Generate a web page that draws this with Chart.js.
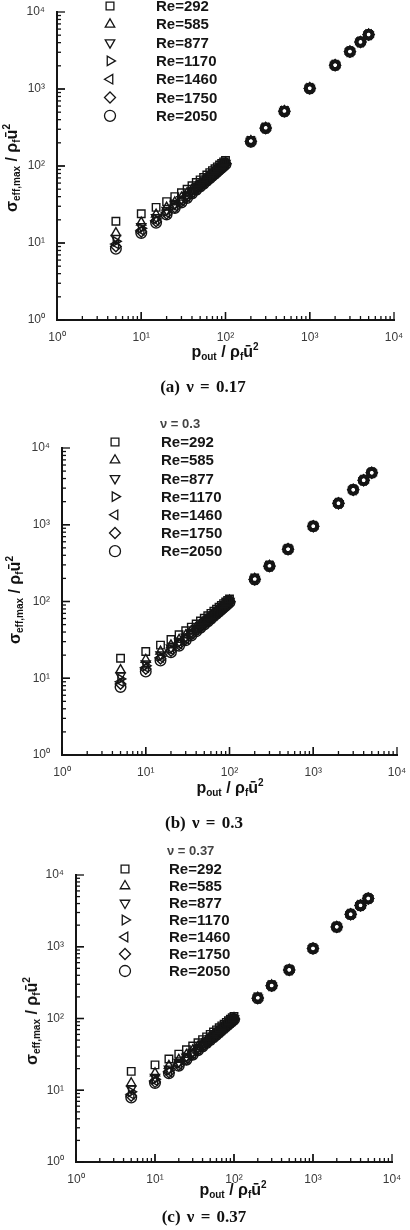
<!DOCTYPE html>
<html>
<head>
<meta charset="utf-8">
<script src="https://cdn.jsdelivr.net/npm/chart.js@4.4.1/dist/chart.umd.min.js"></script>
<style>
html, body { margin: 0; padding: 0; background: #fff; }
body { width: 410px; height: 1230px; position: relative; overflow: hidden; font-family: 'Liberation Sans', Arial, sans-serif; }
canvas { position: absolute; left: 0; }
.xt, .yt { position: absolute; font-weight: bold; font-size: 16px; color: #111; white-space: nowrap; line-height: 1; }
.xt { transform: translate(-50%, -50%); }
.yt { transform: translate(-50%, -50%) rotate(-90deg); }
.xt sub, .yt sub { font-size: 10px; vertical-align: -3px; line-height: 0; }
.xt sup, .yt sup { font-size: 10px; vertical-align: 7px; line-height: 0; }
.cap { position: absolute; font-family: 'Liberation Serif', 'Times New Roman', serif; font-weight: bold; font-size: 17px; color: #111; white-space: nowrap; transform: translate(-50%, -50%); word-spacing: 2px; }
</style>
</head>
<body>
<canvas id="chartA"></canvas>
<canvas id="chartB"></canvas>
<canvas id="chartC"></canvas>

<div class="yt" style="left:12px; top:168px;">σ<sub>eff,max</sub> / ρ<sub>f</sub>ū<sup>2</sup></div>
<div class="xt" style="left:225px; top:352px;">p<sub>out</sub> / ρ<sub>f</sub>ū<sup>2</sup></div>
<div class="cap" style="left:203px; top:387px;">(a) ν = 0.17</div>

<div class="yt" style="left:15px; top:600px;">σ<sub>eff,max</sub> / ρ<sub>f</sub>ū<sup>2</sup></div>
<div class="xt" style="left:230px; top:788px;">p<sub>out</sub> / ρ<sub>f</sub>ū<sup>2</sup></div>
<div class="cap" style="left:204px; top:823px;">(b) ν = 0.3</div>

<div class="yt" style="left:32px; top:1021px;">σ<sub>eff,max</sub> / ρ<sub>f</sub>ū<sup>2</sup></div>
<div class="xt" style="left:233px; top:1190px;">p<sub>out</sub> / ρ<sub>f</sub>ū<sup>2</sup></div>
<div class="cap" style="left:204px; top:1217px;">(c) ν = 0.37</div>

<script>
// x values (outlet pressure) shared by every series
const pOut = [5, 10, 15, 20, 25, 30, 35, 40, 45, 50, 55, 60, 65, 70, 75, 80, 85, 90, 95, 100,
              200, 300, 500, 1000, 2000, 3000, 4000, 5000];

const reLabels = ['Re=292', 'Re=585', 'Re=877', 'Re=1170', 'Re=1460', 'Re=1750', 'Re=2050'];
const decadeTicks = [1, 10, 100, 1000, 10000];

// (a) nu = 0.17
const a292  = [19.2, 24, 29, 34.5, 40, 45, 50, 55.5, 61, 66, 71, 76.5, 82, 87, 92, 97.5, 103, 108, 113, 118, 215, 318, 525, 1035, 2060, 3080, 4100, 5120];
const a585  = [13.5, 18.5, 23.5, 29, 34, 39, 44.5, 49.5, 55, 60, 65, 70, 75.5, 80.5, 86, 91, 96, 101, 106.5, 111.5, 212, 315, 520, 1030, 2050, 3070, 4090, 5110];
const a877  = [11.6, 16.5, 21.5, 26.8, 32, 37, 42, 47.5, 52.5, 57.5, 63, 68, 73, 78.5, 83.5, 88.5, 94, 99, 104, 109, 211, 314, 518, 1025, 2045, 3065, 4085, 5100];
const a1170 = [10.5, 15.5, 20.5, 25.5, 31, 36, 41, 46, 51.5, 56.5, 61.5, 67, 72, 77, 82, 87.5, 92.5, 97.5, 103, 108, 210, 312, 516, 1022, 2040, 3060, 4080, 5095];
const a1460 = [9.7, 14.6, 19.6, 24.7, 30, 35, 40, 45, 50.5, 55.5, 60.5, 66, 71, 76, 81, 86.5, 91.5, 96.5, 101.5, 107, 209, 311, 515, 1020, 2038, 3058, 4075, 5090];
const a1750 = [9, 14, 19, 24, 29, 34.5, 39.5, 44.5, 49.5, 55, 60, 65, 70, 75.5, 80.5, 85.5, 90.5, 96, 101, 106, 208, 310, 514, 1018, 2035, 3055, 4070, 5085];
const a2050 = [8.4, 13.5, 18.3, 23.5, 28.5, 33.5, 38.5, 44, 49, 54, 59, 64.5, 69.5, 74.5, 79.5, 85, 90, 95, 100, 105, 207, 309, 512, 1015, 2030, 3050, 4065, 5080];

// (b) nu = 0.3
const b292  = [18.2, 22.3, 27, 32, 36.8, 41.5, 46.3, 51, 55.8, 60.5, 65.3, 70, 74.8, 79.5, 84.3, 89, 93.8, 98.5, 103.3, 108, 203, 298, 488, 965, 1910, 2860, 3810, 4760];
const b585  = [12.8, 17.5, 22.3, 27, 31.8, 36.5, 41.3, 46, 50.8, 55.5, 60.3, 65, 69.8, 74.5, 79.3, 84, 88.8, 93.5, 98.3, 103, 198, 293, 483, 960, 1905, 2855, 3805, 4755];
const b877  = [10.8, 15.5, 20.3, 25, 29.8, 34.5, 39.3, 44, 48.8, 53.5, 58.3, 63, 67.8, 72.5, 77.3, 82, 86.8, 91.5, 96.3, 101, 196, 291, 481, 958, 1903, 2853, 3803, 4753];
const b1170 = [9.8, 14.5, 19.3, 24, 28.8, 33.5, 38.3, 43, 47.8, 52.5, 57.3, 62, 66.8, 71.5, 76.3, 81, 85.8, 90.5, 95.3, 100, 195, 290, 480, 957, 1902, 2852, 3802, 4752];
const b1460 = [9, 13.8, 18.6, 23.3, 28, 32.8, 37.6, 42.3, 47, 51.8, 56.6, 61.3, 66, 70.8, 75.6, 80.3, 85, 89.8, 94.6, 99.3, 194, 289, 479, 956, 1901, 2851, 3801, 4751];
const b1750 = [8.4, 13.2, 18, 22.7, 27.5, 32.2, 37, 41.7, 46.5, 51.2, 56, 60.7, 65.5, 70.2, 75, 79.7, 84.5, 89.2, 94, 98.7, 193.5, 288.5, 478.5, 955, 1900, 2850, 3800, 4750];
const b2050 = [7.7, 12.2, 17, 21.8, 26.6, 31.3, 36, 40.8, 45.5, 50.3, 55, 59.8, 64.6, 69.3, 74, 78.8, 83.5, 88.3, 93, 97.8, 193, 288, 478, 954, 1899, 2849, 3799, 4749];

// (c) nu = 0.37
const c292  = [18.3, 22.6, 27.2, 31.9, 36.6, 41.3, 46, 50.7, 55.4, 60.1, 64.8, 69.5, 74.2, 78.9, 83.6, 88.3, 93, 97.7, 102.4, 107, 200, 294, 482, 955, 1900, 2840, 3780, 4720];
const c585  = [12.6, 17.3, 22, 26.7, 31.4, 36.1, 40.8, 45.5, 50.2, 54.9, 59.6, 64.3, 69, 73.7, 78.4, 83.1, 87.8, 92.5, 97.2, 101.9, 196, 290, 478, 950, 1895, 2835, 3775, 4715];
const c877  = [10.5, 15.2, 19.9, 24.6, 29.3, 34, 38.7, 43.4, 48.1, 52.8, 57.5, 62.2, 66.9, 71.6, 76.3, 81, 85.7, 90.4, 95.1, 99.8, 194, 288, 476, 948, 1893, 2833, 3773, 4713];
const c1170 = [9.5, 14.2, 18.9, 23.6, 28.3, 33, 37.7, 42.4, 47.1, 51.8, 56.5, 61.2, 65.9, 70.6, 75.3, 80, 84.7, 89.4, 94.1, 98.8, 193, 287, 475, 947, 1892, 2832, 3772, 4712];
const c1460 = [8.8, 13.5, 18.2, 22.9, 27.6, 32.3, 37, 41.7, 46.4, 51.1, 55.8, 60.5, 65.2, 69.9, 74.6, 79.3, 84, 88.7, 93.4, 98.1, 192, 286, 474, 946, 1891, 2831, 3771, 4711];
const c1750 = [8.3, 13, 17.7, 22.4, 27.1, 31.8, 36.5, 41.2, 45.9, 50.6, 55.3, 60, 64.7, 69.4, 74.1, 78.8, 83.5, 88.2, 92.9, 97.6, 191.5, 285.5, 473.5, 945, 1890, 2830, 3770, 4710];
const c2050 = [7.9, 12.6, 17.2, 21.9, 26.6, 31.3, 36, 40.7, 45.4, 50.1, 54.8, 59.5, 64.2, 68.9, 73.6, 78.3, 83, 87.7, 92.4, 97.1, 191, 285, 473, 944, 1889, 2829, 3769, 4709];

// marker shapes, one per Reynolds number
const markers = [
    { style: 'rect', rot: 0 },
    { style: 'triangle', rot: 0 },
    { style: 'triangle', rot: 180 },
    { style: 'triangle', rot: 90 },
    { style: 'triangle', rot: -90 },
    { style: 'rectRot', rot: 0 },
    { style: 'circle', rot: 0 }
];

const supDigits = ['\u2070', '\u00b9', '\u00b2', '\u00b3', '\u2074'];
const ink = '#151515';

// inward tick marks + legend drawn on the canvas
const panelDecor = {
    id: 'panelDecor',
    afterDraw(chart, args, opts) {
        const ctx = chart.ctx;
        const xs = chart.scales.x;
        const ys = chart.scales.y;
        const area = chart.chartArea;
        ctx.save();
        ctx.strokeStyle = '#111';
        ctx.lineWidth = 1.3;
        [1, 10, 100, 1000].forEach(d => {
            for (let k = 1; k <= 10; k++) {
                const v = d * k;
                const len = (k === 1 || k === 10) ? 8 : 4;
                const px = xs.getPixelForValue(v);
                ctx.beginPath();
                ctx.moveTo(px, area.bottom);
                ctx.lineTo(px, area.bottom - len);
                ctx.stroke();
                const py = ys.getPixelForValue(v);
                ctx.beginPath();
                ctx.moveTo(area.left, py);
                ctx.lineTo(area.left + len, py);
                ctx.stroke();
            }
        });

        // legend
        if (opts.header) {
            ctx.fillStyle = '#444';
            ctx.font = "bold 13px 'Liberation Sans', Arial, sans-serif";
            ctx.textBaseline = 'middle';
            ctx.textAlign = 'left';
            ctx.fillText(opts.header, opts.headerX, opts.headerY);
        }
        chart.data.datasets.forEach((ds, i) => {
            const y = opts.y0 + i * opts.dy;
            ctx.strokeStyle = ink;
            ctx.fillStyle = 'rgba(0,0,0,0)';
            ctx.lineWidth = 1.3;
            Chart.helpers.drawPoint(ctx, {
                pointStyle: ds.pointStyle,
                rotation: ds.pointRotation,
                radius: 5.5,
                borderWidth: 1.3
            }, opts.symX, y);
            ctx.fillStyle = ink;
            ctx.font = "bold 15px 'Liberation Sans', Arial, sans-serif";
            ctx.textBaseline = 'middle';
            ctx.textAlign = 'left';
            ctx.fillText(ds.label, opts.textX, y + 1);
        });
        ctx.restore();
    }
};

function makePanel(id, top, height, padTop, padRight, yWidth, series, legend) {
    const canvas = document.getElementById(id);
    canvas.width = 410;
    canvas.height = height;
    canvas.style.top = top + 'px';
    canvas.style.width = '410px';
    canvas.style.height = height + 'px';

    const datasets = series.map((vals, i) => ({
        label: reLabels[i],
        data: pOut.map((p, j) => ({ x: p, y: vals[j] })),
        pointStyle: markers[i].style,
        pointRotation: markers[i].rot,
        pointRadius: 5.3,
        pointBorderWidth: 1.4,
        pointBorderColor: ink,
        pointBackgroundColor: 'rgba(0,0,0,0)',
        showLine: false
    }));

    const tickFont = { family: "'Liberation Sans', Arial, sans-serif", size: 12 };
    const labelFor = v => '10' + supDigits[Math.round(Math.log10(v))];

    return new Chart(canvas, {
        type: 'scatter',
        data: { datasets: datasets },
        options: {
            responsive: false,
            animation: false,
            devicePixelRatio: 1,
            layout: { padding: { top: padTop, right: padRight, left: 0, bottom: 0 } },
            plugins: {
                legend: { display: false },
                tooltip: { enabled: false },
                panelDecor: legend
            },
            scales: {
                x: {
                    type: 'logarithmic',
                    min: 1,
                    max: 10000,
                    grid: { display: false },
                    border: { display: true, color: ink, width: 2 },
                    afterBuildTicks: s => { s.ticks = decadeTicks.map(v => ({ value: v })); },
                    afterFit: s => { s.height = 25; },
                    ticks: {
                        autoSkip: false,
                        maxRotation: 0,
                        padding: 2,
                        color: '#3a3a3a',
                        font: tickFont,
                        callback: labelFor
                    }
                },
                y: {
                    type: 'logarithmic',
                    min: 1,
                    max: 10000,
                    grid: { display: false },
                    border: { display: true, color: ink, width: 2 },
                    afterBuildTicks: s => { s.ticks = decadeTicks.map(v => ({ value: v })); },
                    afterFit: s => { s.width = yWidth; },
                    ticks: {
                        autoSkip: false,
                        padding: 4,
                        color: '#3a3a3a',
                        font: tickFont,
                        callback: labelFor
                    }
                }
            }
        },
        plugins: [panelDecor]
    });
}

makePanel('chartA', 0, 345, 12, 16, 57,
    [a292, a585, a877, a1170, a1460, a1750, a2050],
    { symX: 110, textX: 156, y0: 6, dy: 18.3 });

makePanel('chartB', 400, 380, 48, 13, 62,
    [b292, b585, b877, b1170, b1460, b1750, b2050],
    { header: '\u03bd = 0.3', headerX: 160, headerY: 24, symX: 115, textX: 161, y0: 42, dy: 18.2 });

makePanel('chartC', 840, 347, 35, 18, 76,
    [c292, c585, c877, c1170, c1460, c1750, c2050],
    { header: '\u03bd = 0.37', headerX: 167, headerY: 11, symX: 125, textX: 169, y0: 29, dy: 17 });
</script>
</body>
</html>
